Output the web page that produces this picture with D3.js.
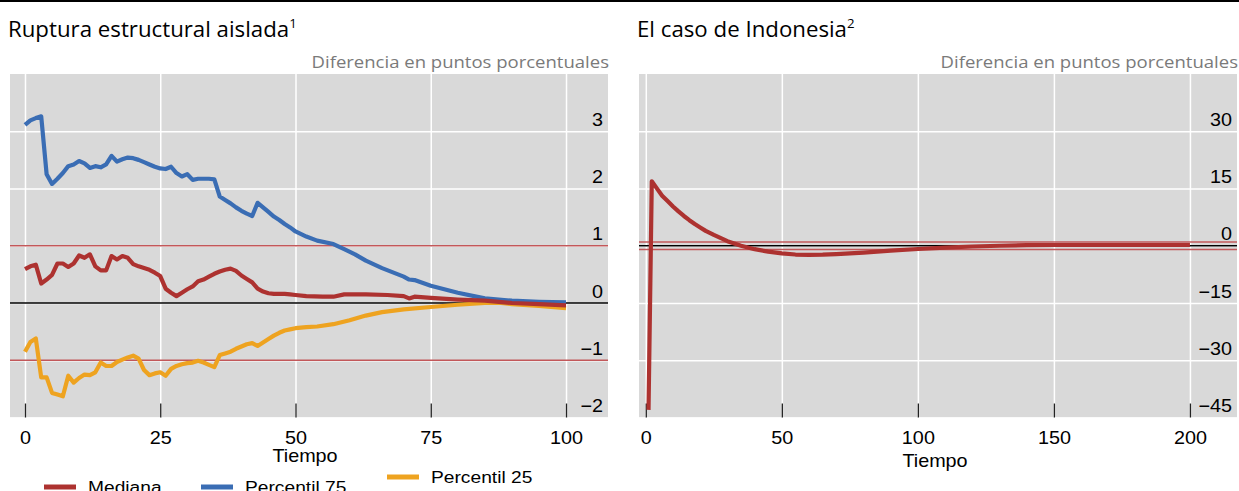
<!DOCTYPE html>
<html>
<head>
<meta charset="utf-8">
<script src="https://cdn.jsdelivr.net/npm/d3@7"></script>
<style>
  body { margin: 0; background: #fff; }
  svg { display: block; }
</style>
</head>
<body>
<div id="chart"></div>
<script>
const W = 1239, H = 491;

// Ruptura estructural aislada: [tiempo, valor]
const mediana = [[0,0.59],[1,0.64],[2,0.67],[3,0.34],[4,0.41],[5,0.49],[6,0.69],[7,0.69],[8,0.63],[9,0.69],[10,0.83],[11,0.79],[12,0.85],[13,0.64],[14,0.57],[15,0.57],[16,0.82],[17,0.76],[18,0.82],[19,0.79],[20,0.68],[21,0.64],[22,0.61],[23,0.58],[24,0.53],[25,0.47],[26,0.25],[27,0.18],[28,0.12],[29,0.18],[30,0.24],[31,0.29],[32,0.38],[33,0.41],[34,0.46],[35,0.51],[36,0.55],[37,0.58],[38,0.60],[39,0.56],[40,0.48],[41,0.42],[42,0.36],[43,0.25],[44,0.20],[45,0.17],[46,0.16],[47,0.16],[48,0.16],[49,0.15],[50,0.14],[52,0.12],[55,0.11],[57,0.11],[59,0.15],[63,0.15],[67,0.14],[70,0.12],[71,0.08],[72,0.11],[75,0.09],[80,0.06],[85,0.04],[90,0.0],[95,-0.02],[100,-0.04]];
const percentil75 = [[0,3.11],[1,3.19],[2,3.23],[3,3.26],[4,2.25],[5,2.08],[6,2.17],[7,2.27],[8,2.39],[9,2.42],[10,2.48],[11,2.44],[12,2.36],[13,2.39],[14,2.37],[15,2.42],[16,2.57],[17,2.47],[18,2.51],[19,2.54],[20,2.53],[21,2.50],[22,2.46],[23,2.42],[24,2.38],[25,2.35],[26,2.34],[27,2.38],[28,2.27],[29,2.21],[30,2.25],[31,2.15],[32,2.17],[33,2.17],[34,2.17],[35,2.16],[36,1.86],[37,1.80],[38,1.74],[39,1.67],[40,1.61],[41,1.56],[42,1.52],[43,1.75],[44,1.67],[45,1.59],[46,1.51],[47,1.45],[48,1.38],[49,1.32],[50,1.25],[52,1.16],[54,1.09],[57,1.03],[59,0.94],[61,0.85],[63,0.74],[66,0.61],[70,0.46],[71,0.41],[72,0.40],[75,0.30],[80,0.18],[85,0.08],[90,0.04],[95,0.02],[100,0.01]];
const percentil25 = [[0,-0.85],[1,-0.68],[2,-0.62],[3,-1.30],[4,-1.30],[5,-1.57],[6,-1.60],[7,-1.63],[8,-1.27],[9,-1.39],[10,-1.31],[11,-1.25],[12,-1.26],[13,-1.21],[14,-1.04],[15,-1.10],[16,-1.10],[17,-1.03],[18,-0.99],[19,-0.95],[20,-0.92],[21,-0.97],[22,-1.17],[23,-1.26],[24,-1.23],[25,-1.21],[26,-1.27],[27,-1.15],[28,-1.10],[29,-1.07],[30,-1.05],[31,-1.04],[32,-1.01],[33,-1.04],[34,-1.08],[35,-1.12],[36,-0.91],[37,-0.88],[38,-0.85],[39,-0.80],[40,-0.76],[41,-0.72],[42,-0.70],[43,-0.75],[44,-0.69],[45,-0.63],[46,-0.57],[47,-0.52],[48,-0.48],[49,-0.46],[50,-0.44],[52,-0.42],[54,-0.41],[57,-0.37],[60,-0.30],[63,-0.22],[66,-0.16],[70,-0.11],[75,-0.07],[80,-0.03],[85,0.0],[88,0.0],[90,-0.02],[95,-0.05],[100,-0.09]];

// El caso de Indonesia: [tiempo, valor]
const indonesia = [[1,-43],[2.2,16.9],[4,15.1],[6,13.1],[8,11.7],[10,10.3],[12,9.0],[14,7.8],[16,6.7],[18,5.7],[20,4.8],[22,3.9],[25,2.85],[30,1.2],[35,0.0],[40,-0.9],[45,-1.55],[50,-2.0],[55,-2.3],[60,-2.4],[65,-2.35],[70,-2.2],[80,-1.8],[90,-1.3],[100,-0.85],[110,-0.5],[120,-0.2],[130,0.0],[140,0.15],[150,0.2],[175,0.2],[200,0.2]];

const leftXTicks = [0, 25, 50, 75, 100];
const leftYTicks = [-2, -1, 0, 1, 2, 3];
const rightXTicks = [0, 50, 100, 150, 200];
const rightYTicks = [-45, -30, -15, 0, 15, 30];
const bandas = [-1, 1];

const colors = { mediana: "#ad3230", p75: "#3a6db4", p25: "#eea320", banda: "#c2585a" };
const SX = 1.1; // el texto del original está estirado en horizontal
const axisFont = "'Liberation Sans', Arial, sans-serif";
const titleFont = "'Open Sans', sans-serif";

const svg = d3.select("#chart").append("svg")
  .attr("width", W)
  .attr("height", H);

// línea negra superior
svg.append("line")
  .attr("x1", 0).attr("x2", W).attr("y1", 1).attr("y2", 1)
  .attr("stroke", "#000").attr("stroke-width", 2);

function panel(opts) {
  const { x0, x1, xDomain, yDomain, xTicks, yTicks, title, sup, series } = opts;
  const top = 74, bottom = 417.5;
  const x = d3.scaleLinear().domain(xDomain).range([x0, x1]);
  const y = d3.scaleLinear().domain(yDomain).range([bottom, top]);
  const g = svg.append("g");

  // título
  const t = g.append("text")
    .attr("transform", `translate(${x0 - 2},37) scale(1.06,1)`)
    .style("font-family", titleFont)
    .style("font-size", "21px")
    .attr("fill", "#000")
    .text(title);
  t.append("tspan").attr("dy", -9).style("font-size", "12.5px").text(sup);

  g.append("text")
    .attr("transform", `translate(${x1 + 1},68) scale(1.09,1)`)
    .attr("text-anchor", "end")
    .style("font-family", titleFont)
    .style("font-size", "17px")
    .attr("fill", "#7a7a7a")
    .text("Diferencia en puntos porcentuales");

  // fondo
  g.append("rect")
    .attr("x", x0).attr("y", top)
    .attr("width", x1 - x0).attr("height", bottom - top)
    .attr("fill", "#d9d9d9");

  // rejilla
  g.append("g")
    .attr("transform", `translate(0,${bottom})`)
    .call(d3.axisBottom(x).tickValues(xTicks).tickSize(-(bottom - top)).tickFormat(""))
    .call(a => a.select(".domain").remove())
    .call(a => a.selectAll("line").attr("stroke", "#fff").attr("stroke-width", 1.5));
  g.append("g")
    .attr("transform", `translate(${x0},0)`)
    .call(d3.axisLeft(y).tickValues(yTicks).tickSize(-(x1 - x0)).tickFormat(""))
    .call(a => a.select(".domain").remove())
    .call(a => a.selectAll("line").attr("stroke", "#fff").attr("stroke-width", 1.5));

  // bandas y cero
  bandas.forEach(b => {
    g.append("line")
      .attr("x1", x0).attr("x2", x1).attr("y1", y(b)).attr("y2", y(b))
      .attr("stroke", colors.banda).attr("stroke-width", 1.5);
  });
  g.append("line")
    .attr("x1", x0).attr("x2", x1).attr("y1", y(0)).attr("y2", y(0))
    .attr("stroke", "#000").attr("stroke-width", 1.4);

  // marcas del eje x
  const xa = g.append("g")
    .attr("transform", `translate(0,${bottom})`)
    .call(d3.axisBottom(x).tickValues(xTicks).tickSize(-14).tickSizeOuter(0));
  xa.select(".domain").remove();
  xa.selectAll("line").attr("stroke", "#222").attr("stroke-width", 1.3);
  xa.selectAll("text")
    .attr("y", 26.5).attr("dy", null)
    .attr("transform", `scale(${SX},1)`)
    .style("font-family", axisFont)
    .style("font-size", "18px")
    .attr("fill", "#000");

  // etiquetas del eje y
  const ya = g.append("g")
    .attr("transform", `translate(${x1 - 5},0)`)
    .call(d3.axisLeft(y).tickValues(yTicks).tickSize(0).tickPadding(0)
      .tickFormat(d => d < 0 ? "\u2212" + Math.abs(d) : d));
  ya.select(".domain").remove();
  ya.selectAll("text")
    .attr("x", 0).attr("dy", -6)
    .attr("transform", `scale(${SX},1)`)
    .style("font-family", axisFont)
    .style("font-size", "18px")
    .attr("fill", "#000");

  // series
  const line = d3.line().x(d => x(d[0])).y(d => y(d[1]));
  series.forEach(s => {
    g.append("path")
      .datum(s.data)
      .attr("d", line)
      .attr("fill", "none")
      .attr("stroke", s.color)
      .attr("stroke-width", 4.2)
      .attr("stroke-linejoin", "round")
      .attr("stroke-linecap", "butt");
  });

  return { x, y, g };
}

panel({
  x0: 10, x1: 608,
  xDomain: [-2.77, 107.76], yDomain: [-2, 4],
  xTicks: leftXTicks, yTicks: leftYTicks,
  title: "Ruptura estructural aislada", sup: "1",
  series: [
    { data: percentil25, color: colors.p25 },
    { data: percentil75, color: colors.p75 },
    { data: mediana, color: colors.mediana }
  ]
});

panel({
  x0: 639, x1: 1237,
  xDomain: [-2.5, 217.3], yDomain: [-45, 45],
  xTicks: rightXTicks, yTicks: rightYTicks,
  title: "El caso de Indonesia", sup: "2",
  series: [{ data: indonesia, color: colors.mediana }]
});

// títulos de eje
function sLabel(x, y, txt) {
  svg.append("text")
    .attr("transform", `translate(${x},${y}) scale(${SX},1)`)
    .attr("text-anchor", "middle")
    .style("font-family", axisFont)
    .style("font-size", "18px")
    .text(txt);
}
sLabel(305, 462, "Tiempo");
sLabel(935, 467, "Tiempo");

// leyenda
const legendItems = [
  { name: "Mediana", color: colors.mediana, x: 44, y: 487 },
  { name: "Percentil 75", color: colors.p75, x: 201, y: 487 },
  { name: "Percentil 25", color: colors.p25, x: 387, y: 477 }
];
legendItems.forEach(d => {
  svg.append("line")
    .attr("x1", d.x).attr("x2", d.x + 32)
    .attr("y1", d.y).attr("y2", d.y)
    .attr("stroke", d.color).attr("stroke-width", 5);
  svg.append("text")
    .attr("transform", `translate(${d.x + 44},${d.y + 6}) scale(1.13,1)`)
    .style("font-family", axisFont)
    .style("font-size", "17px")
    .text(d.name);
});
</script>
</body>
</html>
